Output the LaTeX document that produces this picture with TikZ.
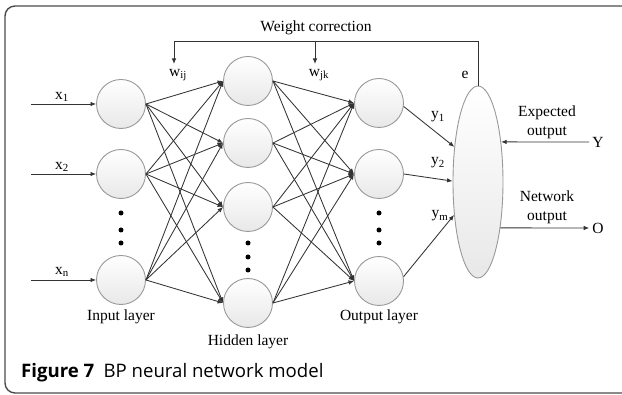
\documentclass[tikz,border=0pt]{standalone}
\usepackage{fontspec}
\setmainfont{Liberation Serif}
\newfontfamily\capfont{Open Sans}
\usetikzlibrary{arrows.meta,shapes.geometric}
\begin{document}
\begin{tikzpicture}[x=1pt,y=-1pt,
  neuron/.style={circle,draw=gray!80,line width=0.9pt,top color=white,bottom color=gray!18,minimum size=49pt,inner sep=0pt},
  conn/.style={draw=black!80,line width=0.85pt,-{Latex[length=5.5pt,width=4.5pt]}},
  lbl/.style={font=\fontsize{15.5}{19}\selectfont,inner sep=0pt,align=center},
  dotn/.style={circle,fill=black,inner sep=0pt,minimum size=5pt},
  framebox/.style={draw=black!70,line width=1.4pt,rounded corners=10pt}]
\useasboundingbox (0,0) rectangle (622,395);
\draw[framebox] (622,6) -- (5,6) -- (5,393) -- (622,393);

% neurons
\node[neuron] (i1) at (121,104) {};
\node[neuron] (i2) at (121,174) {};
\node[neuron] (i3) at (121,280) {};
\node[neuron] (h1) at (248,81) {};
\node[neuron] (h2) at (248,143) {};
\node[neuron] (h3) at (248,207) {};
\node[neuron] (h4) at (248,303) {};
\node[neuron] (o1) at (379,103) {};
\node[neuron] (o2) at (379,174) {};
\node[neuron] (o3) at (379,281) {};
\node[ellipse,draw=gray!80,line width=0.9pt,top color=white,bottom color=gray!18,minimum width=50pt,minimum height=192pt,inner sep=0pt] (E) at (478,182) {};

% dots
\node[dotn] (di1) at (121,213) {};
\node[dotn] (di2) at (121,230) {};
\node[dotn] (di3) at (121,243) {};
\node[dotn] (dh1) at (248,243) {};
\node[dotn] (dh2) at (248,257) {};
\node[dotn] (dh3) at (248,270) {};
\node[dotn] (do1) at (379,213) {};
\node[dotn] (do2) at (379,230) {};
\node[dotn] (do3) at (379,243) {};

% full connections
\foreach \a in {1,2,3}
  \foreach \b in {1,2,3,4}
    \draw[conn] (i\a.east) -- (h\b.west);
\foreach \a in {1,2,3,4}
  \foreach \b in {1,2,3}
    \draw[conn] (h\a.east) -- (o\b.west);

% inputs
\coordinate (s1) at (31,104);
\coordinate (s2) at (31,174);
\coordinate (s3) at (31,280);
\draw[conn] (s1) -- (i1.west);
\draw[conn] (s2) -- (i2.west);
\draw[conn] (s3) -- (i3.west);
\node[lbl] (x1) at (62,97) {x\textsubscript{1}};
\node[lbl] (x2) at (62,167) {x\textsubscript{2}};
\node[lbl] (xn) at (62,272) {x\textsubscript{n}};

% outputs to comparator
\draw[conn] (o1.-8) -- (E.124);
\draw[conn] (o2.east) -- (E.178);
\draw[conn] (o3.10) -- (E.234);
\node[lbl] (y1) at (438,117) {y\textsubscript{1}};
\node[lbl] (y2) at (438,163) {y\textsubscript{2}};
\node[lbl] (ym) at (440,216) {y\textsubscript{m}};

% expected / network output
\node[lbl] (exp) at (547,122) {Expected\\output};
\node[lbl,inner sep=3pt] (Y) at (598,142) {Y};
\draw[conn] (Y.west) -- (E.60);
\node[lbl] (net) at (547,207) {Network\\output};
\node[lbl,inner sep=3pt] (O) at (598,228) {O};
\draw[conn] (E.-64) -- (O.west);

% weight correction feedback
\coordinate (c1) at (478,41);
\coordinate (c2) at (174,41);
\coordinate (t1) at (174,64);
\coordinate (c3) at (315,41);
\coordinate (t2) at (315,64);
\draw[conn] (E.north) -- (c1) -- (c2) -- (t1);
\draw[conn] (c3) -- (t2);
\node[lbl] (wc) at (316,28) {Weight correction};
\node[lbl] (wij) at (178,75) {w\textsubscript{ij}};
\node[lbl] (wjk) at (319,75) {w\textsubscript{jk}};
\node[lbl] (e) at (465,75) {e};

% layer labels
\node[lbl] (il) at (121,317) {Input layer};
\node[lbl] (hl) at (248,342) {Hidden layer};
\node[lbl] (ol) at (379,317) {Output layer};

% caption
\node[anchor=base west,inner sep=0pt,font=\capfont\fontsize{18.6}{22}\selectfont] (cap) at (21,378) {\textbf{Figure 7}\hspace{0.5em}BP neural network model};
\end{tikzpicture}
\end{document}
